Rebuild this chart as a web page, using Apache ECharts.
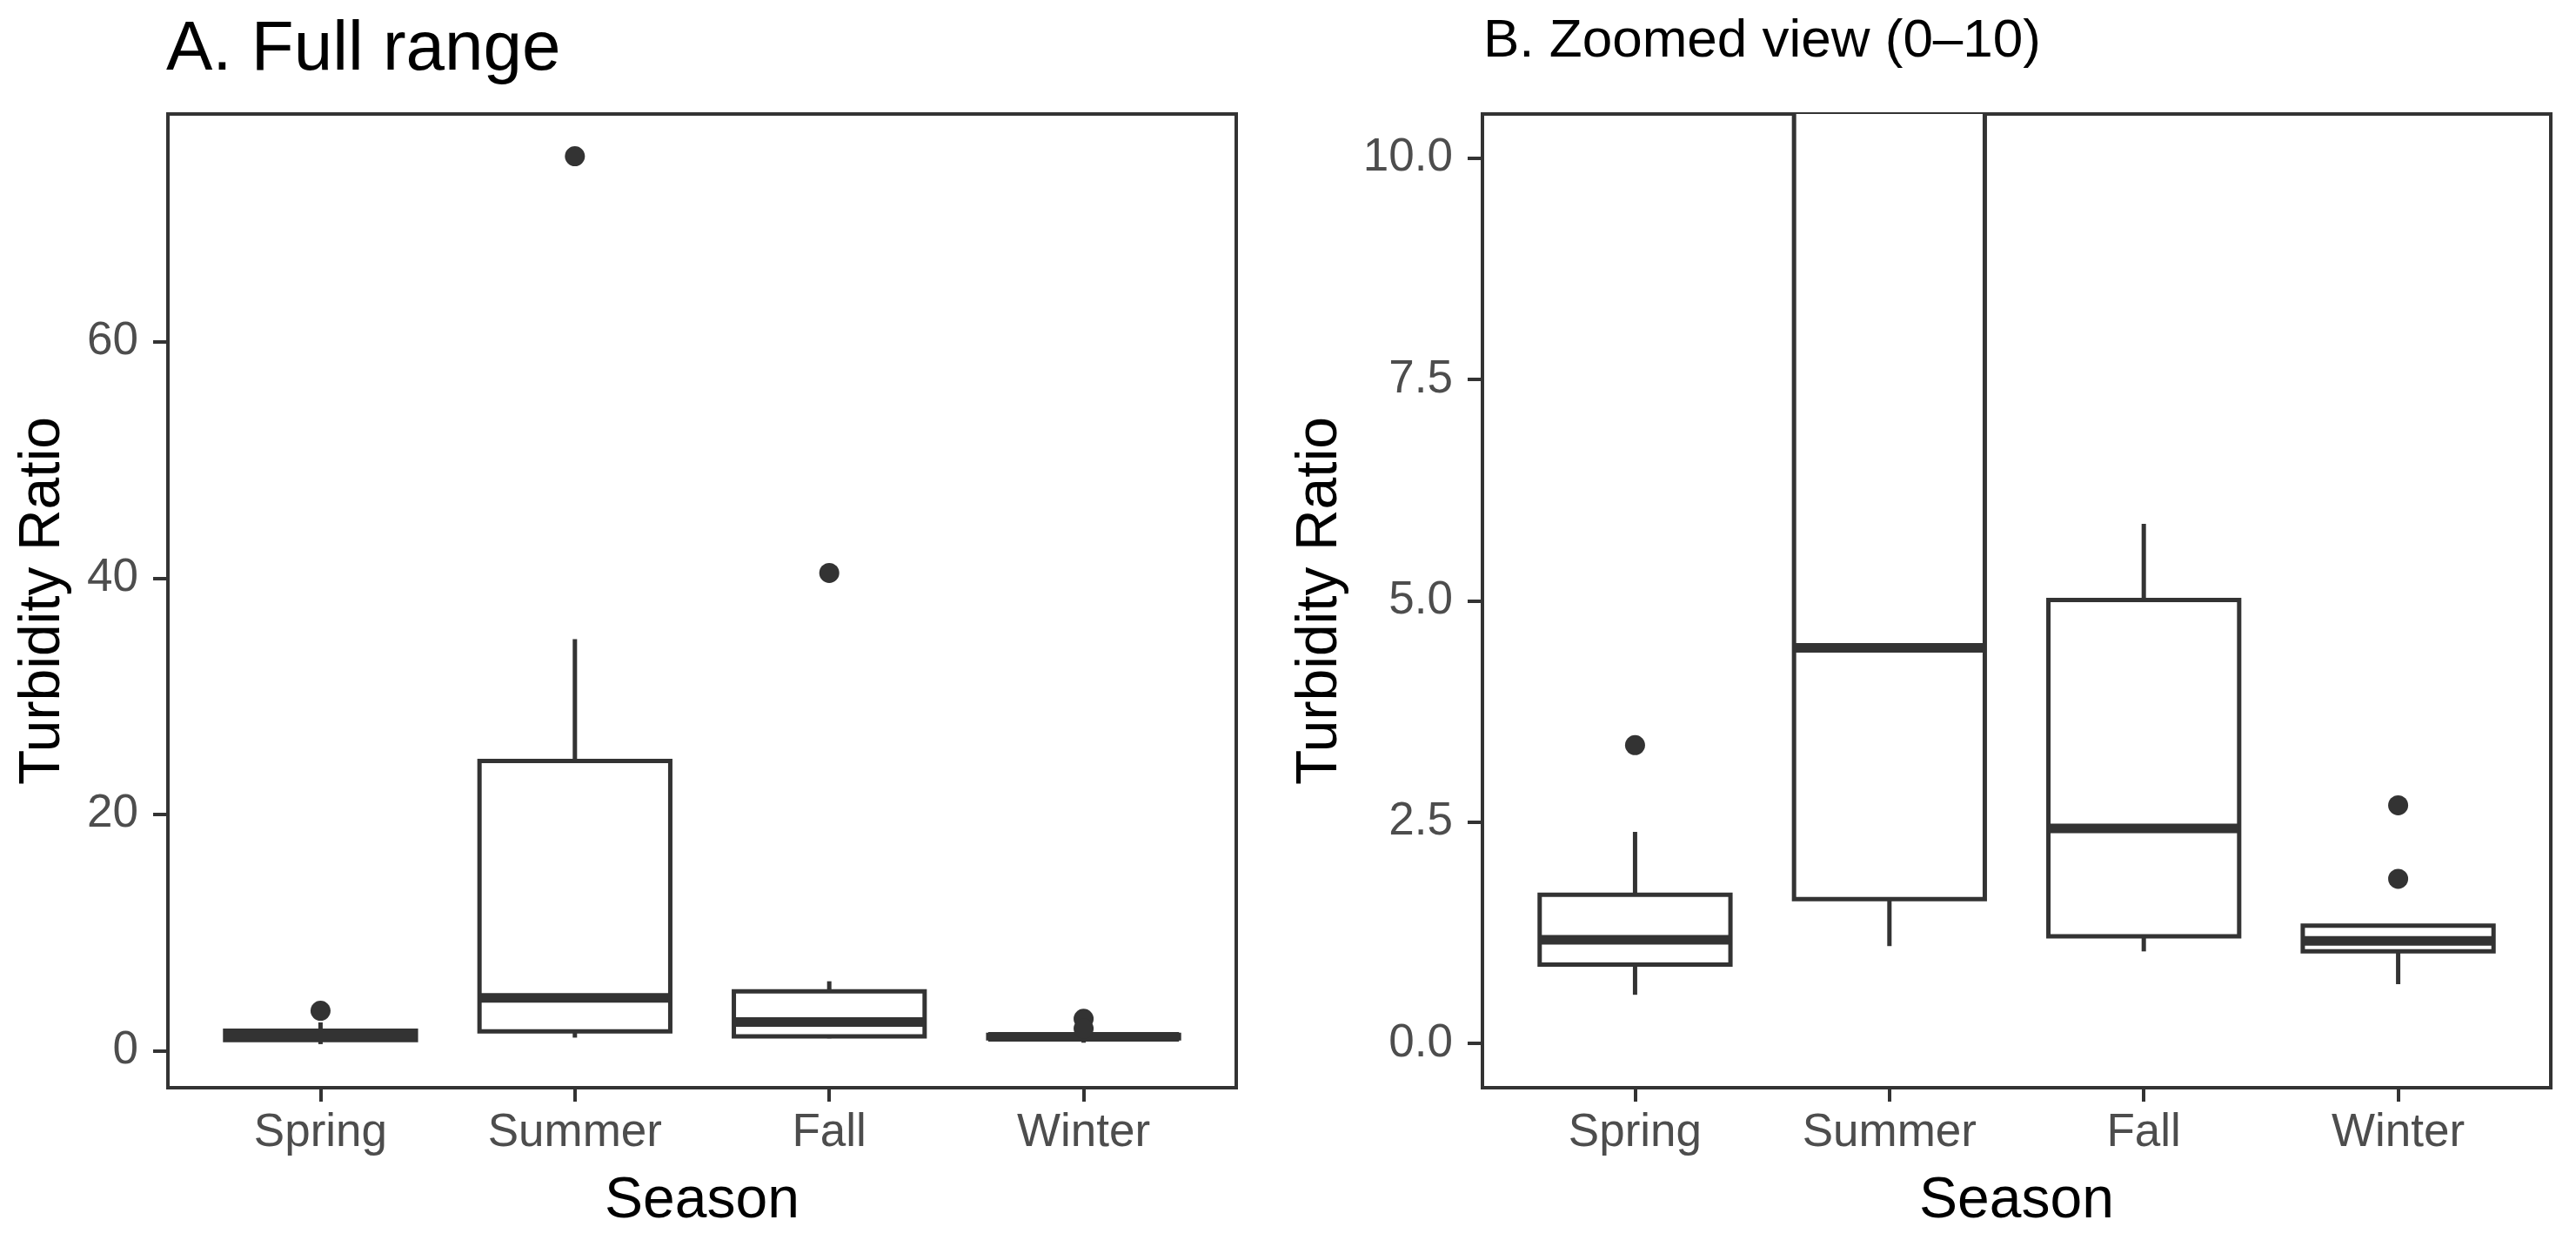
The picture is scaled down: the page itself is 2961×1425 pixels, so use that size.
<!DOCTYPE html>
<html lang="en">
<head>
    <meta charset="UTF-8">
    <title>Turbidity Ratio by Season</title>
    <style>
        html, body { margin: 0; padding: 0; background: #fff; }
    </style>
</head>
<body>
    <div id="main" style="width: 2961px; height: 1425px;"></div>

    <script src="https://cdn.jsdelivr.net/npm/echarts@6/dist/echarts.min.js"></script>
    <script>
        // categories (x positions 1..4)
        var seasons = ['Spring', 'Summer', 'Fall', 'Winter'];

        // box statistics per season
        var whiskerLow = [0.55, 1.10, 1.04, 0.67];
        var q1 = [0.89, 1.63, 1.21, 1.04];
        var median = [1.17, 4.47, 2.43, 1.16];
        var q3 = [1.68, 24.52, 5.01, 1.33];
        var whiskerHigh = [2.39, 34.83, 5.87, 1.33];

        // outlier points
        var outlierSeason = [1, 2, 3, 4, 4];
        var outlierValue = [3.37, 75.7, 40.43, 2.69, 1.86];

        // tick labels
        var ticksFull = [0, 20, 40, 60];
        var ticksZoom = [0, 2.5, 5, 7.5, 10];

        var FONT = "'Liberation Sans', Arial, sans-serif";
        var INK = '#333333';

        var boxData = seasons.map(function (s, i) {
            return [i + 1, whiskerLow[i], q1[i], median[i], q3[i], whiskerHigh[i]];
        });
        var outlierData = outlierValue.map(function (v, i) {
            return [outlierSeason[i], v];
        });

        // ggplot-like box: whiskers, white box, thick median
        function renderBox(params, api) {
            var x = api.value(0);
            var half = api.size([0.75, 0])[0] / 2;
            var pLow = api.coord([x, api.value(1)]);
            var pQ1 = api.coord([x, api.value(2)]);
            var pMed = api.coord([x, api.value(3)]);
            var pQ3 = api.coord([x, api.value(4)]);
            var pHigh = api.coord([x, api.value(5)]);
            var line = { stroke: INK, lineWidth: 5 };
            return {
                type: 'group',
                children: [
                    { type: 'line', shape: { x1: pQ3[0], y1: pQ3[1], x2: pHigh[0], y2: pHigh[1] }, style: line },
                    { type: 'line', shape: { x1: pQ1[0], y1: pQ1[1], x2: pLow[0], y2: pLow[1] }, style: line },
                    {
                        type: 'rect',
                        shape: { x: pQ3[0] - half, y: pQ3[1], width: half * 2, height: pQ1[1] - pQ3[1] },
                        style: { fill: '#fff', stroke: INK, lineWidth: 5 }
                    },
                    {
                        type: 'line',
                        shape: { x1: pMed[0] - half, y1: pMed[1], x2: pMed[0] + half, y2: pMed[1] },
                        style: { stroke: INK, lineWidth: 11 }
                    }
                ]
            };
        }

        function xAxisFor(gridIndex) {
            return {
                gridIndex: gridIndex,
                type: 'value',
                position: 'bottom',
                min: 0.4,
                max: 4.6,
                name: 'Season',
                nameLocation: 'middle',
                nameGap: 98,
                nameMoveOverlap: false,
                nameTextStyle: { fontFamily: FONT, fontSize: 66, color: '#000' },
                axisLine: { show: false, onZero: false },
                axisTick: { show: true, length: 16, customValues: [1, 2, 3, 4], lineStyle: { color: INK, width: 4 } },
                axisLabel: {
                    customValues: [1, 2, 3, 4],
                    margin: 26,
                    fontFamily: FONT,
                    fontSize: 53,
                    color: '#4D4D4D',
                    formatter: function (v) { return seasons[Math.round(v) - 1]; }
                },
                splitLine: { show: false }
            };
        }

        function yAxisFor(gridIndex, min, max, ticks, digits, gap) {
            return {
                gridIndex: gridIndex,
                type: 'value',
                position: 'left',
                min: min,
                max: max,
                name: 'Turbidity Ratio',
                nameLocation: 'middle',
                nameGap: gap,
                nameMoveOverlap: false,
                nameTextStyle: { fontFamily: FONT, fontSize: 66, color: '#000' },
                axisLine: { show: false, onZero: false },
                axisTick: { show: true, length: 17, customValues: ticks, lineStyle: { color: INK, width: 4 } },
                axisLabel: {
                    customValues: ticks,
                    margin: 34,
                    fontFamily: FONT,
                    fontSize: 53,
                    color: '#4D4D4D',
                    formatter: function (v) { return v.toFixed(digits); }
                },
                splitLine: { show: false }
            };
        }

        var myChart = echarts.init(document.getElementById('main'));
        var option = {
            backgroundColor: '#fff',
            animation: false,
            title: [
                {
                    text: 'A. Full range',
                    left: 191,
                    top: 18,
                    padding: 0,
                    textStyle: { fontFamily: FONT, fontSize: 80, fontWeight: 'normal', color: '#000' }
                },
                {
                    text: 'B. Zoomed view (0\u201310)',
                    left: 1705,
                    top: 17,
                    padding: 0,
                    textStyle: { fontFamily: FONT, fontSize: 62, fontWeight: 'normal', color: '#000' }
                }
            ],
            grid: [
                { left: 193, top: 131, width: 1228, height: 1119, show: true, borderColor: INK, borderWidth: 4, backgroundColor: '#fff' },
                { left: 1704, top: 131, width: 1228, height: 1119, show: true, borderColor: INK, borderWidth: 4, backgroundColor: '#fff' }
            ],
            xAxis: [xAxisFor(0), xAxisFor(1)],
            yAxis: [
                yAxisFor(0, -3.14, 79.28, ticksFull, 0, 110),
                yAxisFor(1, -0.5, 10.5, ticksZoom, 1, 153)
            ],
            series: [
                {
                    type: 'custom',
                    xAxisIndex: 0,
                    yAxisIndex: 0,
                    clip: true,
                    renderItem: renderBox,
                    encode: { x: 0, y: [1, 2, 3, 4, 5] },
                    data: boxData
                },
                {
                    type: 'scatter',
                    xAxisIndex: 0,
                    yAxisIndex: 0,
                    clip: true,
                    symbolSize: 23,
                    itemStyle: { color: INK, opacity: 1 },
                    data: outlierData
                },
                {
                    type: 'custom',
                    xAxisIndex: 1,
                    yAxisIndex: 1,
                    clip: true,
                    renderItem: renderBox,
                    encode: { x: 0, y: [1, 2, 3, 4, 5] },
                    data: boxData
                },
                {
                    type: 'scatter',
                    xAxisIndex: 1,
                    yAxisIndex: 1,
                    clip: true,
                    symbolSize: 23,
                    itemStyle: { color: INK, opacity: 1 },
                    data: outlierData
                }
            ]
        };
        myChart.setOption(option);
    </script>
</body>
</html>
